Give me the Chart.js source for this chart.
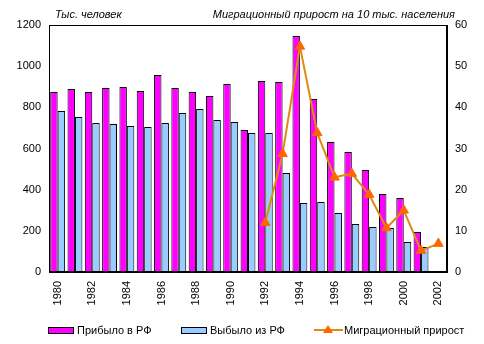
<!DOCTYPE html>
<html><head><meta charset="utf-8">
<script src="https://cdn.jsdelivr.net/npm/chart.js@4"></script>
<style>
html,body{margin:0;padding:0;background:#fff;}
#wrap{position:relative;width:484px;height:344px;font-family:"Liberation Sans",Arial,sans-serif;font-size:11px;color:#000;}
canvas{position:absolute;left:0;top:0;}
.t{position:absolute;font-style:italic;white-space:nowrap;line-height:12px;}
.lg{position:absolute;white-space:nowrap;line-height:12px;top:324px;}
.box{position:absolute;height:5px;border:1px solid #000;top:327px;}
</style></head><body>
<div id="wrap">
<canvas id="c" width="484" height="344"></canvas>
<div class="t" style="left:55px;top:8px;">Тыс. человек</div>
<div class="t" style="right:29px;top:8px;">Миграционный прирост на 10 тыс. населения</div>
<div class="box" style="left:48px;width:24px;background:#FF00FF;"></div>
<div class="lg" style="left:77px;">Прибыло в РФ</div>
<div class="box" style="left:181px;width:24px;background:#99CCFF;"></div>
<div class="lg" style="left:210px;">Выбыло из РФ</div>
<svg style="position:absolute;left:313px;top:322px;" width="32" height="14"><line x1="1" y1="8" x2="30" y2="8" stroke="#E08A10" stroke-width="2"/><polygon points="15,3 20,11 10,11" fill="#FF6600"/></svg>
<div class="lg" style="left:344px;">Миграционный прирост</div>
</div>
<script>
const years = ["1980","1981","1982","1983","1984","1985","1986","1987","1988","1989","1990","1991","1992","1993","1994","1995","1996","1997","1998","1999","2000","2001","2002"];
const arrived = [874,889,874,894,899,879,957,894,874,855,913,690,928,923,1147,841,632,583,496,379,359,194,null];
const departed = [782,753,724,719,709,704,724,772,792,738,729,675,675,481,335,340,287,233,219,214,146,121,null];
const netRate = [null,null,null,null,null,null,null,null,null,null,null,null,12,28.7,54.8,33.8,23,23.9,18.8,10.7,15,5.2,6.9];

const frame = {
  id:'frame',
  afterDraw(chart){
    const a = chart.chartArea, ctx = chart.ctx;
    ctx.save(); ctx.strokeStyle='#000'; ctx.lineWidth=1;
    ctx.strokeRect(Math.round(a.left)+0.5, Math.round(a.top)+0.5, Math.round(a.right-a.left)-1, Math.round(a.bottom-a.top)-1);
    ctx.restore();
  }
};
const font = {family:'"Liberation Sans", Arial, sans-serif', size:11};
new Chart(document.getElementById('c'), {
  data:{
    labels: years,
    datasets:[
      {type:'line', label:'Миграционный прирост', data: netRate, yAxisID:'y1', borderColor:'#E08A10', borderWidth:2,
       pointStyle:'triangle', pointRadius:5.5, pointBackgroundColor:'#FF6600', pointBorderColor:'#FF6600', pointBorderWidth:1, tension:0, spanGaps:false, order:0},
      {type:'bar', label:'Прибыло в РФ', data: arrived, backgroundColor:'#FF00FF', borderColor:'#000', borderWidth:1, yAxisID:'y', order:1,
       categoryPercentage:0.86, barPercentage:1.0},
      {type:'bar', label:'Выбыло из РФ', data: departed, backgroundColor:'#99CCFF', borderColor:'#000', borderWidth:1, yAxisID:'y', order:1,
       categoryPercentage:0.86, barPercentage:1.0}
    ]
  },
  options:{
    responsive:false, animation:false,
    layout:{padding:{top:25,left:0,right:0,bottom:0}},
    plugins:{legend:{display:false}, tooltip:{enabled:false}},
    scales:{
      x:{grid:{display:false, drawTicks:false}, border:{display:true,color:'#000'},
         ticks:{autoSkip:false, maxRotation:90, minRotation:90, color:'#000', font, padding:9,
           callback:function(v,i){return i%2===0 ? this.getLabelForValue(v) : '';}},
         afterFit(s){s.height=72;}},
      y:{position:'left', min:0, max:1200, grid:{display:false, drawTicks:false}, border:{display:true,color:'#000'},
         ticks:{stepSize:200, color:'#000', font, padding:8, callback:v=>String(v)}, afterFit(s){s.width=49;}},
      y1:{position:'right', min:0, max:60, grid:{display:false, drawTicks:false}, border:{display:true,color:'#000'},
         ticks:{stepSize:10, color:'#000', font, padding:8, callback:v=>String(v)}, afterFit(s){s.width=37;}}
    }
  },
  plugins:[frame]
});
</script>
</body></html>
